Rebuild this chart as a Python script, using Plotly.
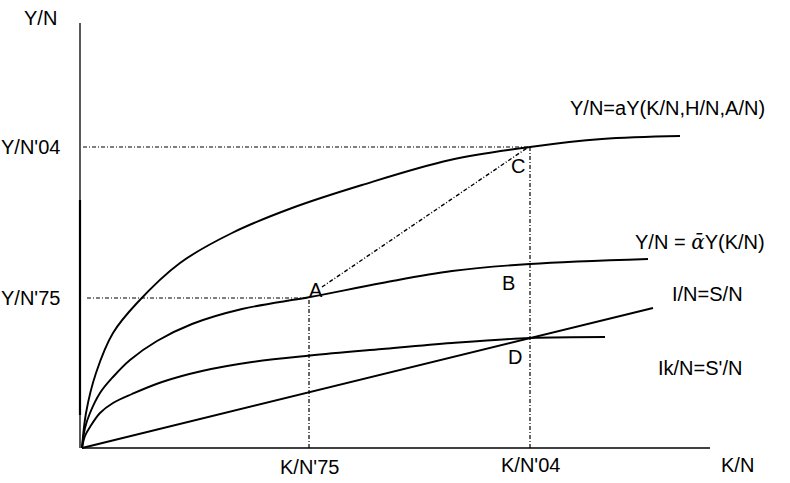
import plotly.graph_objects as go

# Data units: 1 unit = 1 px, origin at the axis corner
top_x = [0, 4, 14, 31, 55, 98, 150, 210, 280, 368, 448, 520, 598]
top_y = [0, 35, 75, 115, 145, 185, 215, 240, 263, 288, 301, 309, 312]

mid_x = [0, 3, 8, 18, 31, 48, 75, 110, 160, 228, 300, 370, 448, 566]
mid_y = [0, 20, 35, 55, 71, 88, 107, 124, 139, 151, 165, 177, 184, 189]

low_x = [0, 3, 8, 18, 31, 50, 80, 120, 170, 228, 300, 370, 448, 523]
low_y = [0, 12, 21, 35, 45, 54, 66, 77, 86, 92.5, 99, 105, 110, 111]

inv_x = [0, 571]
inv_y = [0, 140]

k75, k04 = 227, 448
y75, y04 = 150, 301

FONT = "Liberation Sans"
BLACK = "#000000"
DOT = "4px,2px,1px,2px"

fig = go.Figure()

def line(x, y, width=1.9, dash="solid", shape="spline"):
    fig.add_trace(go.Scatter(x=x, y=y, mode="lines",
                             line=dict(color=BLACK, width=width, dash=dash, shape=shape, smoothing=1.0),
                             hoverinfo="skip", showlegend=False))

# axes
line([-2, -2], [0, 425], width=1.3, shape="linear")
line([-2, -2], [33, 248], width=2.2, shape="linear")
line([0, 628], [0, 0], width=1.3, shape="linear")

# curves
line(top_x, top_y)
line(mid_x, mid_y)
line(low_x, low_y)
line(inv_x, inv_y, shape="linear")

# guide lines
line([1, k04], [y04, y04], width=1.2, dash=DOT, shape="linear")
line([5, k75], [y75, y75], width=1.2, dash=DOT, shape="linear")
line([k75, k75], [0, y75], width=1.2, dash=DOT, shape="linear")
line([k04, k04], [0, y04], width=1.2, dash=DOT, shape="linear")
line([240, 445], [161, 300], width=1.4, dash=DOT, shape="linear")

def txt(x, y, s, xanchor="center", size=20):
    fig.add_annotation(x=x, y=y, xref="x", yref="y", text=s, showarrow=False,
                       xanchor=xanchor, yanchor="middle",
                       font=dict(family=FONT, size=size, color=BLACK))

txt(-42, 430, "Y/N")
txt(-20, y04, "Y/N'04", xanchor="right")
txt(-20, y75, "Y/N'75", xanchor="right")
txt(k75, -19, "K/N'75")
txt(k04, -17, "K/N'04")
txt(655, -17, "K/N")
txt(585, 340, "Y/N=aY(K/N,H/N,A/N)")
txt(618, 206, "Y/N = <span style='font-family:DejaVu Serif'><i>ᾱ</i></span>Y(K/N)")
txt(625, 154, "I/N=S/N")
txt(618, 80, "Ik/N=S'/N")
txt(234, 158, "A")
txt(426, 165, "B")
txt(436, 282, "C")
txt(433, 91, "D")

fig.update_layout(
    width=790, height=483,
    margin=dict(l=0, r=0, t=0, b=0),
    paper_bgcolor="white", plot_bgcolor="white",
    xaxis=dict(range=[-82, 708], visible=False, fixedrange=True),
    yaxis=dict(range=[-35, 448], visible=False, fixedrange=True),
    showlegend=False,
)

fig.write_html("out.html", config={"displayModeBar": False},
               post_script="document.body.style.margin='0';document.body.style.overflow='hidden';")
